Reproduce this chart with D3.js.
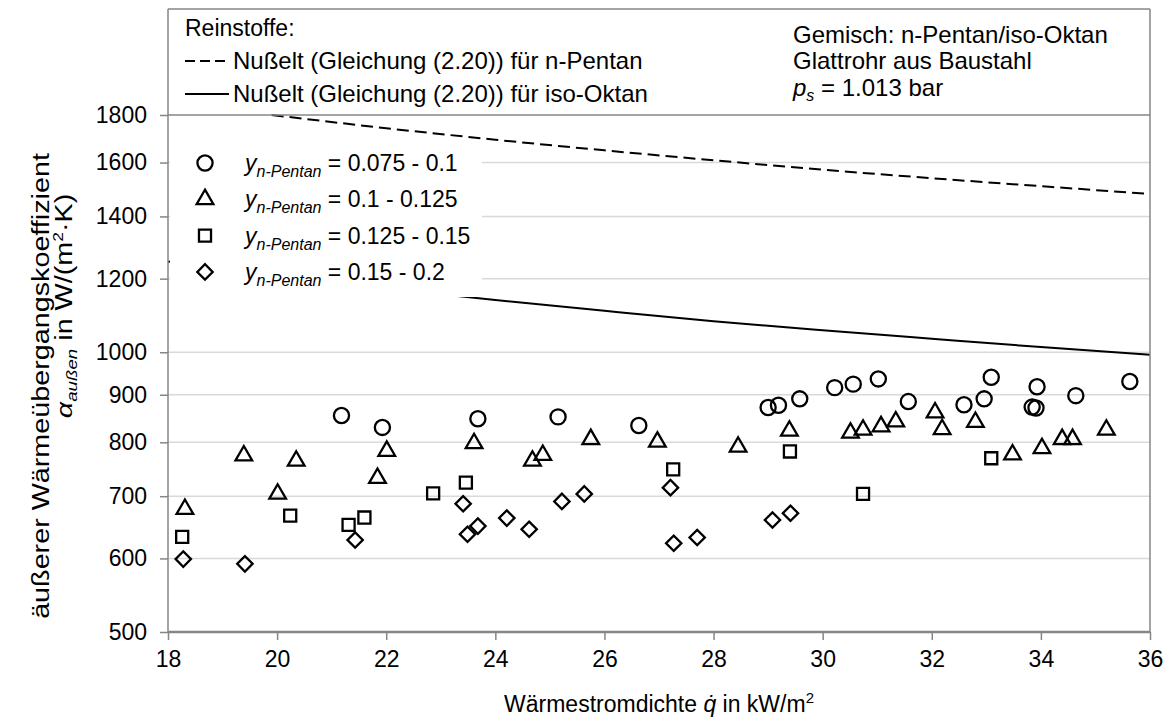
<!DOCTYPE html>
<html><head><meta charset="utf-8">
<script src="https://cdn.jsdelivr.net/npm/d3@7"></script>
<style>
body{margin:0;background:#fff}
svg{display:block}
text{font-family:"Liberation Sans",Arial,sans-serif;fill:#000}
</style>
</head><body>
<svg id="c" width="1170" height="724"></svg>
<script>
// ---- data ----
const xTicks = [18, 20, 22, 24, 26, 28, 30, 32, 34, 36];
const yTicks = [500, 600, 700, 800, 900, 1000, 1200, 1400, 1600, 1800];

const circleQ = [21.18, 21.93, 23.68, 25.15, 26.63, 29.0, 29.19, 29.58, 30.22, 30.56, 31.02, 31.57, 32.59, 32.96, 33.09, 33.84, 33.91, 33.93, 34.64, 35.63];
const circleA = [855, 830, 848, 852, 834, 872, 877, 891, 916, 924, 936, 885, 878, 891, 940, 873, 871, 918, 898, 930];

const triQ = [18.31, 19.39, 20.01, 20.35, 21.84, 22.01, 23.61, 24.68, 24.87, 25.75, 26.97, 28.45, 29.39, 30.51, 30.74, 31.07, 31.34, 32.06, 32.19, 32.8, 33.48, 34.02, 34.39, 34.58, 35.2];
const triA = [678, 774, 704, 764, 732, 783, 798, 764, 775, 806, 801, 791, 823, 819, 825, 832, 842, 861, 826, 841, 776, 788, 806, 806, 825];

const sqQ = [18.26, 20.24, 21.31, 21.6, 22.86, 23.46, 27.26, 29.4, 30.74, 33.09];
const sqA = [633, 667, 652, 664, 705, 724, 748, 782, 704, 769];

const diaQ = [18.28, 19.41, 21.43, 23.41, 23.49, 23.68, 24.21, 24.62, 25.22, 25.63, 27.21, 27.27, 27.7, 29.08, 29.41];
const diaA = [599, 592, 628, 687, 637, 650, 663, 645, 691, 704, 715, 623, 632, 660, 671];

const pentanQ = [19.9, 22, 24, 26, 28, 30, 32, 34, 36];
const pentanA = [1800, 1742, 1693, 1649, 1609, 1572, 1539, 1509, 1480];

const oktanQ = [18, 20, 22, 24, 26, 28, 30, 32, 34, 36];
const oktanA = [1252, 1209, 1171, 1138, 1108, 1080, 1056, 1034, 1013, 994];

const legendRanges = ["0.075 - 0.1", "0.1 - 0.125", "0.125 - 0.15", "0.15 - 0.2"];

// ---- layout ----
const L = 168, R = 1150, T = 115, B = 632, BOXTOP = 9;
const svg = d3.select("#c");
const x = d3.scaleLinear().domain([18, 36]).range([L, R]);
const y = d3.scaleLog().domain([500, 1800]).range([B, T]);
const grey = "#868686";

// gridlines
svg.append("g").selectAll("line").data(yTicks.filter(v => v > 500 && v < 1800)).join("line")
  .attr("x1", L).attr("x2", R).attr("y1", d => y(d)).attr("y2", d => y(d))
  .attr("stroke", "#d9d9d9").attr("stroke-width", 1.5);

// curves
const line = d3.line().x(d => x(d[0])).y(d => y(d[1])).curve(d3.curveMonotoneX);
svg.append("path").datum(pentanQ.map((q, i) => [q, pentanA[i]]))
  .attr("d", line).attr("fill", "none").attr("stroke", "#000").attr("stroke-width", 2)
  .attr("stroke-dasharray", "12,6");
svg.append("path").datum(oktanQ.map((q, i) => [q, oktanA[i]]))
  .attr("d", line).attr("fill", "none").attr("stroke", "#000").attr("stroke-width", 2);

// marker legend background (covers lines)
svg.append("rect").attr("x", L + 2).attr("y", 147).attr("width", 312).attr("height", 150).attr("fill", "#fff");

// frame
svg.append("line").attr("x1", L).attr("x2", R).attr("y1", BOXTOP).attr("y2", BOXTOP).attr("stroke", grey).attr("stroke-width", 1.5);
svg.append("line").attr("x1", L).attr("x2", R).attr("y1", T).attr("y2", T).attr("stroke", grey).attr("stroke-width", 1.5);
svg.append("line").attr("x1", R).attr("x2", R).attr("y1", BOXTOP).attr("y2", B).attr("stroke", grey).attr("stroke-width", 1.5);
svg.append("line").attr("x1", L).attr("x2", L).attr("y1", BOXTOP).attr("y2", B).attr("stroke", grey).attr("stroke-width", 1.5);

// axes
const yAxis = d3.axisLeft(y).tickValues(yTicks).tickFormat(d3.format("d")).tickSize(8).tickPadding(13);
const gy = svg.append("g").attr("transform", `translate(${L},0)`).call(yAxis);
gy.select(".domain").remove();
gy.selectAll(".tick line").attr("stroke", grey).attr("stroke-width", 1.5);
gy.selectAll("text").attr("font-size", 23).attr("font-family", "Liberation Sans, Arial, sans-serif");

const xAxis = d3.axisBottom(x).tickValues(xTicks).tickFormat(d3.format("d")).tickSize(8).tickPadding(11);
const gx = svg.append("g").attr("transform", `translate(0,${B})`).call(xAxis);
gx.select(".domain").attr("stroke", grey).attr("stroke-width", 2.5).attr("d", `M${L},0H${R}`);
gx.selectAll(".tick line").attr("stroke", grey).attr("stroke-width", 1.5);
gx.selectAll("text").attr("font-size", 23).attr("font-family", "Liberation Sans, Arial, sans-serif");

// markers
const sym = (type, size) => d3.symbol().type(type).size(size)();
const types = [[d3.symbolCircle, 180, 0], [d3.symbolTriangle, 120, 0], [d3.symbolSquare, 145, 0], [d3.symbolSquare, 118, 45]];
function drawPts(qs, as, t) {
  svg.append("g").selectAll("path").data(qs.map((q, i) => [q, as[i]])).join("path")
    .attr("d", sym(t[0], t[1]))
    .attr("transform", d => `translate(${x(d[0])},${y(d[1])})` + (t[2] ? ` rotate(${t[2]})` : ""))
    .attr("fill", "none").attr("stroke", "#000").attr("stroke-width", 2.3);
}
drawPts(circleQ, circleA, types[0]);
drawPts(triQ, triA, types[1]);
drawPts(sqQ, sqA, types[2]);
drawPts(diaQ, diaA, types[3]);

// marker legend
legendRanges.forEach((r, i) => {
  const cy = 163 + i * 36.3;
  svg.append("path").attr("d", sym(types[i][0], types[i][1]))
    .attr("transform", `translate(205,${cy})` + (types[i][2] ? ` rotate(45)` : ""))
    .attr("fill", "none").attr("stroke", "#000").attr("stroke-width", 2.3);
  const t = svg.append("text").attr("x", 245).attr("y", cy + 8).attr("font-size", 23);
  t.append("tspan").attr("font-style", "italic").text("y");
  t.append("tspan").attr("font-style", "italic").attr("font-size", 16).attr("dy", 6).text("n-Pentan");
  t.append("tspan").attr("dy", -6).text(" = " + r);
});

// top legend box
svg.append("text").attr("x", 185).attr("y", 36).attr("font-size", 23).text("Reinstoffe:");
svg.append("line").attr("x1", 185).attr("x2", 229).attr("y1", 61).attr("y2", 61)
  .attr("stroke", "#000").attr("stroke-width", 2).attr("stroke-dasharray", "10,5");
svg.append("text").attr("x", 233).attr("y", 69).attr("font-size", 24).text("Nußelt (Gleichung (2.20)) für n-Pentan");
svg.append("line").attr("x1", 185).attr("x2", 229).attr("y1", 94).attr("y2", 94)
  .attr("stroke", "#000").attr("stroke-width", 2);
svg.append("text").attr("x", 233).attr("y", 102).attr("font-size", 24).text("Nußelt (Gleichung (2.20)) für iso-Oktan");

const rx = 793;
svg.append("text").attr("x", rx).attr("y", 43).attr("font-size", 24).text("Gemisch: n-Pentan/iso-Oktan");
svg.append("text").attr("x", rx).attr("y", 69).attr("font-size", 24).text("Glattrohr aus Baustahl");
const ps = svg.append("text").attr("x", rx).attr("y", 96).attr("font-size", 24);
ps.append("tspan").attr("font-style", "italic").text("p");
ps.append("tspan").attr("font-style", "italic").attr("font-size", 16).attr("dy", 5).text("s");
ps.append("tspan").attr("dy", -5).text(" = 1.013 bar");

// axis titles
const xt = svg.append("text").attr("x", (L + R) / 2).attr("y", 712).attr("text-anchor", "middle").attr("font-size", 23);
xt.append("tspan").text("Wärmestromdichte ");
xt.append("tspan").attr("font-style", "italic").text("q\u0307");
xt.append("tspan").text(" in kW/m");
xt.append("tspan").attr("font-size", 15).attr("dy", -9).text("2");

svg.append("text").attr("transform", "translate(49,386) rotate(-90) scale(1.25,1)")
  .attr("text-anchor", "middle").attr("font-size", 23).text("äußerer Wärmeübergangskoeffizient");
const yt2 = svg.append("text").attr("transform", "translate(72,306) rotate(-90) scale(1.25,1)")
  .attr("text-anchor", "middle").attr("font-size", 23);
yt2.append("tspan").attr("font-style", "italic").text("α");
yt2.append("tspan").attr("font-style", "italic").attr("font-size", 15).attr("dy", 5).text("außen");
yt2.append("tspan").attr("dy", -5).text(" in W/(m");
yt2.append("tspan").attr("font-size", 14).attr("dy", -9).text("2");
yt2.append("tspan").attr("dy", 9).text("·K)");
</script>
</body></html>
